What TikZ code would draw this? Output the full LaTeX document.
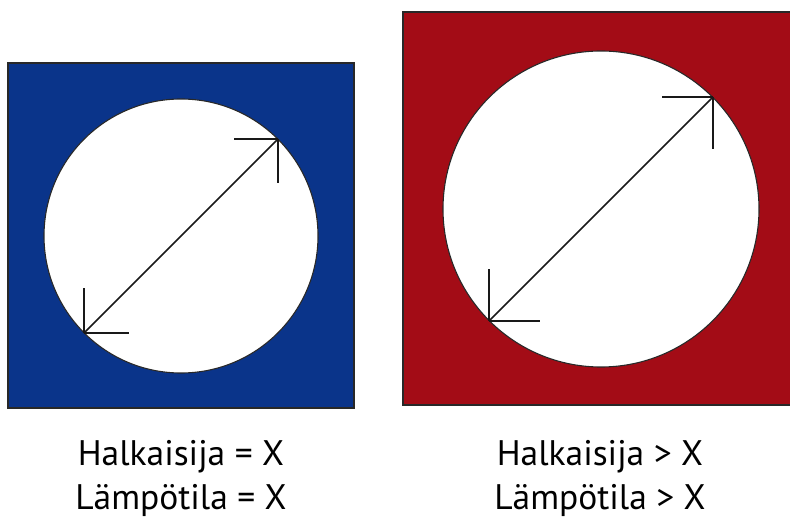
\documentclass[tikz,border=0pt]{standalone}
\usepackage{fontspec}
\setmainfont{PT Sans}
\definecolor{blueC}{RGB}{10,52,138}
\definecolor{redC}{RGB}{163,12,22}
\definecolor{edgeC}{RGB}{40,40,40}
\begin{document}
\begin{tikzpicture}[x=1pt,y=-1pt,
  sq/.style={draw=edgeC,line width=1.2pt},
  hole/.style={circle,draw=edgeC,fill=white,line width=1.1pt,inner sep=0pt,outer sep=0pt},
  dia/.style={line width=1.7pt,draw=black!90},
  lbl/.style={font=\fontsize{35.5}{42}\selectfont,anchor=base,inner sep=0pt}]
\useasboundingbox (0,0) rectangle (790,518);
\clip (0,0) rectangle (790,518);
\fill[white] (0,0) rectangle (790,518);
% blue square
\draw[sq,fill=blueC] (8,63) rectangle (354,408);
\node[hole,minimum size=274pt] (c1) at (181,236) {};
\draw[dia] (c1.225) -- (c1.45);
\draw[dia] (c1.45) -- ++(-44,0);
\draw[dia] (c1.45) -- ++(0,44);
\draw[dia] (c1.225) -- ++(0,-45);
\draw[dia] (c1.225) -- ++(45,0);
% red square
\draw[sq,fill=redC] (403,12) rectangle (795,405);
\node[hole,minimum size=316pt] (c2) at (601,209) {};
\draw[dia] (c2.225) -- (c2.45);
\draw[dia] (c2.45) -- ++(-51,0);
\draw[dia] (c2.45) -- ++(0,52);
\draw[dia] (c2.225) -- ++(0,-52);
\draw[dia] (c2.225) -- ++(51,0);
% labels
\node[lbl] (t1) at (181,465) {Halkaisija = X};
\node[lbl] (t2) at (181,509) {Lämpötila = X};
\node[lbl] (t3) at (600,465) {Halkaisija > X};
\node[lbl] (t4) at (600,509) {Lämpötila > X};
\end{tikzpicture}
\end{document}
